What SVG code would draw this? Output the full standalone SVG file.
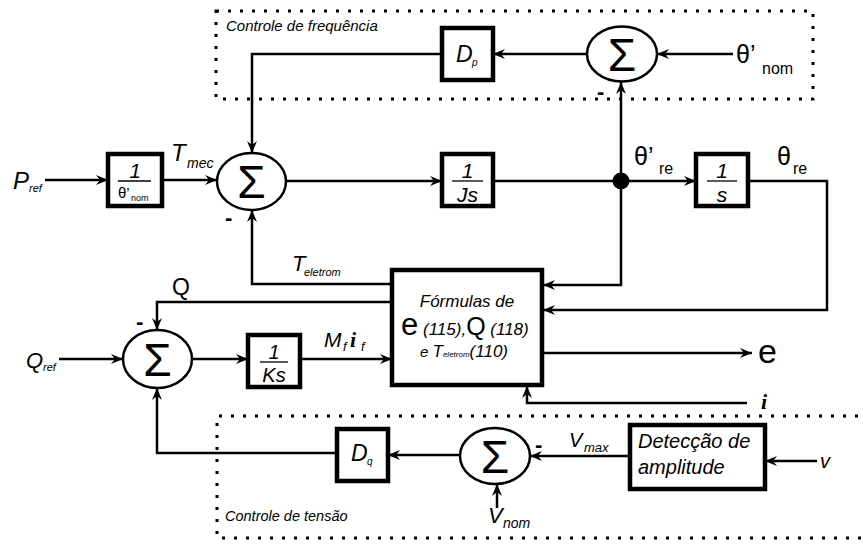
<svg xmlns="http://www.w3.org/2000/svg" width="863" height="544" viewBox="0 0 863 544">
<defs>
<marker id="arr" markerUnits="userSpaceOnUse" markerWidth="13" markerHeight="10" refX="12" refY="5" orient="auto">
<path d="M0,0 L12,5 L0,10 L4,5 Z" fill="#000"/>
</marker>
<style>
text{font-family:"Liberation Sans",Arial,sans-serif;fill:#000}
.it{font-style:italic}
.blk{fill:#fff;stroke:#000;stroke-width:4.5}
.sum{fill:#fff;stroke:#000;stroke-width:2.5}
.sig{font-size:46px;text-anchor:middle}
.ln{fill:none;stroke:#000;stroke-width:2.5}
.ar{fill:none;stroke:#000;stroke-width:2.5;marker-end:url(#arr)}
.dot{fill:none;stroke:#000;stroke-width:3;stroke-dasharray:3 9}
.frac{stroke:#000;stroke-width:1.3}
.minus{font-size:22px;font-weight:bold}
.serif{font-family:"Liberation Serif","Times New Roman",serif;font-style:italic;font-weight:bold}
</style>
</defs>

<g id="frame-freq">
<rect class="dot" x="216" y="11" width="597" height="88"/>
<text class="it" x="226" y="31" font-size="15">Controle de frequência</text>
</g>
<g id="frame-tensao">
<path class="dot" d="M870,416 H217 V538 H870"/>
<text class="it" x="225" y="521" font-size="14.5">Controle de tensão</text>
</g>

<g id="connectors">
<path class="ar" d="M45,180 H108"/>
<path class="ar" d="M162,180 H217"/>
<path class="ar" d="M286,181 H442"/>
<path class="ar" d="M493,181 H696"/>
<path class="ar" d="M748,181 H827 V310 H543"/>
<path class="ar" d="M621,181 V285 H543"/>
<path class="ar" d="M621,181 V82"/>
<path class="ar" d="M733,54 H657"/>
<path class="ar" d="M587,54 H493"/>
<path class="ar" d="M442,54 H252 V153"/>
<path class="ar" d="M392,284 H252 V210"/>
<path class="ar" d="M392,302 H157 V330"/>
<path class="ar" d="M59,359 H123"/>
<path class="ar" d="M192,359 H248"/>
<path class="ar" d="M300,359 H392"/>
<path class="ar" d="M542,353 H752"/>
<path class="ar" d="M747,403 H527 V386"/>
<path class="ar" d="M817,461 H765"/>
<path class="ar" d="M630,456 H530"/>
<path class="ar" d="M460,455 H388"/>
<path class="ar" d="M337,453 H157 V388"/>
<path class="ar" d="M497,508 V484"/>
<circle cx="621" cy="181" r="8.5" fill="#000"/>
</g>

<g id="labels">
<text class="it" x="13" y="189" font-size="24">P</text>
<text class="it" x="29" y="192" font-size="11">ref</text>
<text class="it" x="171" y="161" font-size="24">T</text>
<text class="it" x="187" y="168" font-size="14">mec</text>
<text x="634" y="165" font-size="25">θ’</text>
<text x="659" y="174" font-size="16">re</text>
<text x="777" y="165" font-size="25">θ</text>
<text x="793" y="174" font-size="16">re</text>
<text x="736" y="63" font-size="25">θ’</text>
<text x="762" y="74" font-size="16">nom</text>
<text class="it" x="292" y="271" font-size="22">T</text>
<text class="it" x="304" y="276" font-size="11">eletrom</text>
<text x="172" y="295" font-size="23">Q</text>
<text class="it" x="26" y="368" font-size="22">Q</text>
<text class="it" x="43" y="371" font-size="11">ref</text>
<text class="it" x="324" y="347" font-size="21">M</text>
<text class="it" x="343" y="351" font-size="13">f</text>
<text class="serif" x="350" y="347" font-size="22">i</text>
<text class="it" x="361" y="351" font-size="13">f</text>
<text x="758" y="363" font-size="34">e</text>
<text class="serif" x="761" y="409" font-size="22">i</text>
<text class="it" x="569" y="447" font-size="20">V</text>
<text class="it" x="584" y="452" font-size="13">max</text>
<text class="it" x="820" y="468" font-size="20">v</text>
<text class="it" x="488" y="523" font-size="22">V</text>
<text class="it" x="503" y="528" font-size="14">nom</text>
<text class="minus" x="597" y="99">-</text>
<text class="minus" x="225" y="225">-</text>
<text class="minus" x="136" y="329">-</text>
<text class="minus" x="535" y="452">-</text>
</g>

<g id="blk-gain">
<rect class="blk" x="108" y="154" width="54" height="52"/>
<text class="it" x="135" y="178" font-size="21" text-anchor="middle">1</text>
<line class="frac" x1="118" y1="181" x2="151" y2="181"/>
<text x="118" y="198" font-size="15">θ’</text>
<text x="131" y="201" font-size="9">nom</text>
</g>

<g id="sum1">
<ellipse class="sum" cx="251.5" cy="181.5" rx="34.5" ry="28.5"/>
<text class="sig" x="251.5" y="198">Σ</text>
</g>

<g id="blk-js">
<rect class="blk" x="442" y="154" width="51" height="52"/>
<text class="it" x="467.5" y="178" font-size="21" text-anchor="middle">1</text>
<line class="frac" x1="452" y1="181" x2="483" y2="181"/>
<text class="it" x="467.5" y="202" font-size="21" text-anchor="middle">Js</text>
</g>

<g id="blk-s">
<rect class="blk" x="696" y="154" width="52" height="52"/>
<text class="it" x="722" y="178" font-size="21" text-anchor="middle">1</text>
<line class="frac" x1="707" y1="181" x2="737" y2="181"/>
<text class="it" x="722" y="202" font-size="21" text-anchor="middle">s</text>
</g>

<g id="sum-top">
<ellipse class="sum" cx="622" cy="54" rx="35" ry="27.5"/>
<text class="sig" x="622" y="70.5">Σ</text>
</g>

<g id="blk-dp">
<rect class="blk" x="442" y="28" width="51" height="52"/>
<text class="it" x="456" y="62" font-size="23">D</text>
<text class="it" x="472" y="66" font-size="10">p</text>
</g>

<g id="blk-formulas">
<rect class="blk" x="392" y="270" width="150" height="115"/>
<text class="it" x="467" y="307" font-size="17" text-anchor="middle">Fórmulas de</text>
<text x="401" y="335"><tspan font-size="31">e</tspan><tspan class="it" font-size="17"> (115),</tspan><tspan font-size="25">Q</tspan><tspan class="it" font-size="17"> (118)</tspan></text>
<text class="it" x="420" y="357"><tspan font-size="15">e </tspan><tspan font-size="17">T</tspan><tspan font-size="8">eletrom</tspan><tspan font-size="17">(110)</tspan></text>
</g>

<g id="sum2">
<ellipse class="sum" cx="157.5" cy="359" rx="34.5" ry="29"/>
<text class="sig" x="157.5" y="375.5">Σ</text>
</g>

<g id="blk-ks">
<rect class="blk" x="248" y="335" width="52" height="52"/>
<text class="it" x="274" y="359" font-size="20" text-anchor="middle">1</text>
<line class="frac" x1="260" y1="362" x2="288" y2="362"/>
<text class="it" x="274" y="382" font-size="20" text-anchor="middle">Ks</text>
</g>

<g id="blk-dq">
<rect class="blk" x="337" y="429" width="51" height="52"/>
<text class="it" x="351" y="461" font-size="23">D</text>
<text class="it" x="367" y="465" font-size="10">q</text>
</g>

<g id="sum3">
<ellipse class="sum" cx="495" cy="456" rx="35" ry="28"/>
<text class="sig" x="495" y="472.5">Σ</text>
</g>

<g id="blk-detect">
<rect class="blk" x="630" y="425" width="135" height="64"/>
<text class="it" x="638" y="448" font-size="20">Detecção de</text>
<text class="it" x="638" y="474" font-size="20">amplitude</text>
</g>
</svg>
